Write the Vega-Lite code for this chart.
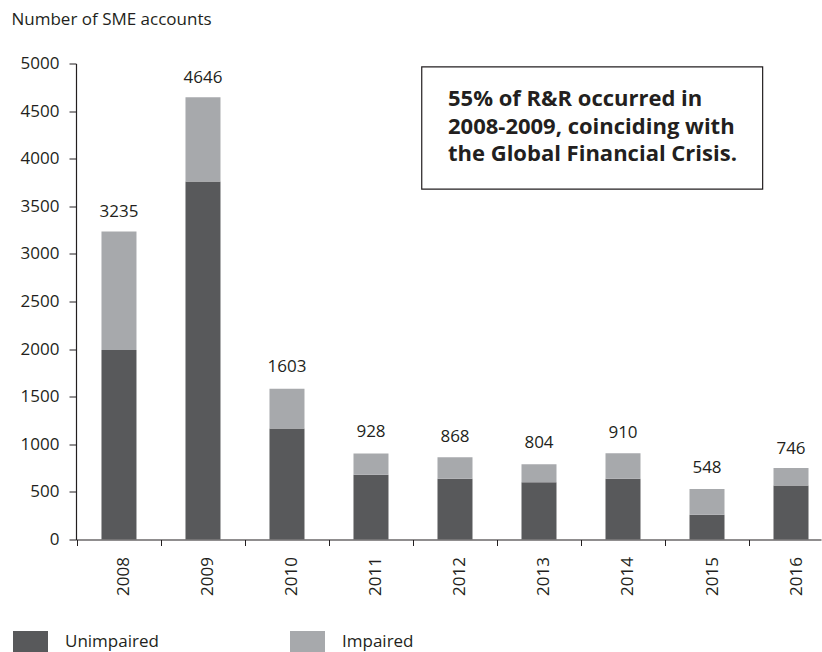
{
  "$schema": "https://vega.github.io/schema/vega-lite/v6.json",
  "width": 745,
  "height": 476,
  "autosize": {"type": "none"},
  "padding": {"left": 76, "top": 63.5, "right": 1, "bottom": 112.5},
  "background": "white",
  "config": {
    "view": {"stroke": null},
    "font": "Open Sans",
    "text": {"font": "Open Sans"}
  },
  "datasets": {
    "bars": [
      {"year": "2008", "status": "Unimpaired", "count": 1990},
      {"year": "2008", "status": "Impaired", "count": 1245},
      {"year": "2009", "status": "Unimpaired", "count": 3760},
      {"year": "2009", "status": "Impaired", "count": 886},
      {"year": "2010", "status": "Unimpaired", "count": 1165},
      {"year": "2010", "status": "Impaired", "count": 418},
      {"year": "2011", "status": "Unimpaired", "count": 680},
      {"year": "2011", "status": "Impaired", "count": 223},
      {"year": "2012", "status": "Unimpaired", "count": 637},
      {"year": "2012", "status": "Impaired", "count": 228},
      {"year": "2013", "status": "Unimpaired", "count": 602},
      {"year": "2013", "status": "Impaired", "count": 189},
      {"year": "2014", "status": "Unimpaired", "count": 637},
      {"year": "2014", "status": "Impaired", "count": 270},
      {"year": "2015", "status": "Unimpaired", "count": 260},
      {"year": "2015", "status": "Impaired", "count": 270},
      {"year": "2016", "status": "Unimpaired", "count": 567},
      {"year": "2016", "status": "Impaired", "count": 185}
    ],
    "totals": [
      {"year": "2008", "total": 3235},
      {"year": "2009", "total": 4646},
      {"year": "2010", "total": 1603},
      {"year": "2011", "total": 928},
      {"year": "2012", "total": 868},
      {"year": "2013", "total": 804},
      {"year": "2014", "total": 910},
      {"year": "2015", "total": 548},
      {"year": "2016", "total": 746}
    ],
    "note": [
      {"text": "55% of R&R occurred in\n2008-2009, coinciding with\nthe Global Financial Crisis."}
    ]
  },
  "layer": [
    {
      "data": {"name": "bars"},
      "mark": {"type": "bar"},
      "encoding": {
        "x": {
          "field": "year",
          "type": "nominal",
          "scale": {"paddingInner": 0.5833, "paddingOuter": 0.226, "align": 0.671},
          "axis": {
            "title": null,
            "labelAngle": -90,
            "labelAlign": "right",
            "labelBaseline": "middle",
            "labelFontSize": 17,
            "labelColor": "#231f20",
            "labelPadding": 11,
            "labelOffset": 47,
            "tickOffset": -42,
            "tickSize": 6,
            "tickColor": "#231f20",
            "domainColor": "#231f20",
            "domainWidth": 1.2
          }
        },
        "y": {
          "field": "count",
          "type": "quantitative",
          "stack": "zero",
          "scale": {"domain": [0, 5000], "nice": false},
          "axis": {
            "values": [0, 500, 1000, 1500, 2000, 2500, 3000, 3500, 4000, 4500, 5000],
            "format": "d",
            "grid": false,
            "title": "Number of SME accounts",
            "titleAngle": 0,
            "titleAlign": "left",
            "titleBaseline": "alphabetic",
            "titleX": -65,
            "titleY": -39.5,
            "titleFontSize": 17,
            "titleFontWeight": "normal",
            "titleColor": "#231f20",
            "labelFontSize": 17,
            "labelColor": "#231f20",
            "labelPadding": 10,
            "tickSize": 7,
            "tickColor": "#231f20",
            "domainColor": "#231f20",
            "domainWidth": 1.2
          }
        },
        "color": {
          "field": "status",
          "type": "nominal",
          "sort": ["Unimpaired", "Impaired"],
          "scale": {"domain": ["Unimpaired", "Impaired"], "range": ["#58595b", "#a7a9ac"]},
          "legend": {
            "title": null,
            "orient": "none",
            "legendX": -63,
            "legendY": 560.5,
            "direction": "horizontal",
            "columns": 2,
            "columnPadding": 131,
            "symbolType": "M-1,-0.6H1V0.6H-1Z",
            "symbolSize": 1225,
            "symbolStrokeWidth": 0,
            "symbolOpacity": 1,
            "labelFontSize": 17,
            "labelColor": "#231f20",
            "labelOffset": 17
          }
        },
        "order": {"field": "status", "sort": "descending"}
      }
    },
    {
      "data": {"name": "totals"},
      "mark": {"type": "text", "baseline": "alphabetic", "dy": -14.5, "fontSize": 17, "color": "#231f20"},
      "encoding": {
        "x": {"field": "year", "type": "nominal"},
        "y": {"field": "total", "type": "quantitative"},
        "text": {"field": "total", "type": "quantitative", "format": "d"}
      }
    },
    {
      "data": {"name": "note"},
      "mark": {"type": "rect", "fill": "white", "stroke": "#231f20", "strokeWidth": 1.2},
      "encoding": {
        "x": {"datum": "2012", "bandPosition": -0.45},
        "x2": {"datum": "2016", "bandPosition": -0.31},
        "y": {"datum": 4964},
        "y2": {"datum": 3681}
      }
    },
    {
      "data": {"name": "note"},
      "mark": {"type": "text", "align": "left", "baseline": "middle", "fontSize": 22, "fontWeight": "bold", "lineBreak": "\n", "lineHeight": 27.5, "color": "#231f20"},
      "encoding": {
        "x": {"datum": "2012", "bandPosition": 0.3},
        "y": {"datum": 4622},
        "text": {"field": "text"}
      }
    }
  ]
}
